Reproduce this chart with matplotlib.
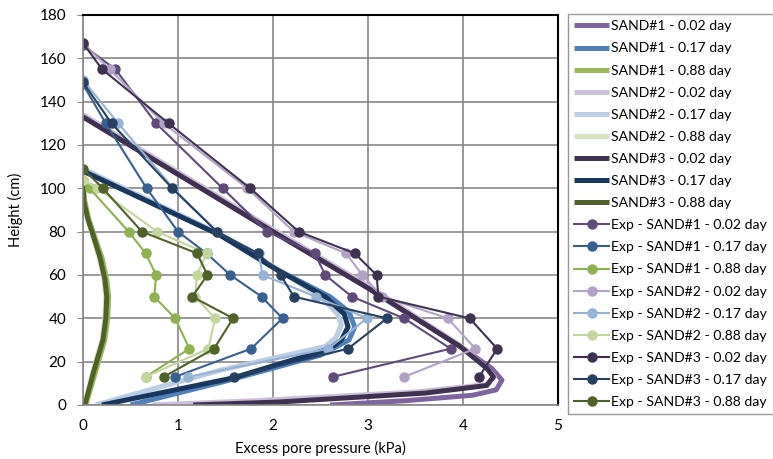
import matplotlib
matplotlib.use("Agg")
import matplotlib.pyplot as plt

plt.rcParams['font.family'] = ['Lato', 'DejaVu Sans']

# model curves (x = excess pore pressure kPa, h = height cm)
m_s1_002_x = [0, 2.0, 3.0, 3.97, 4.3, 4.41, 4.35, 4.1, 3.4, 2.6]
m_s1_002_h = [133, 80, 54, 27, 17, 11.5, 7, 4.5, 2, 0]
m_s1_017_x = [0, 1.44, 2.02, 2.6, 2.8, 2.86, 2.8, 2.5, 1.5, 0.5]
m_s1_017_h = [108, 78.5, 63, 50, 43, 36, 30, 23, 11, 0]
m_s1_088_x = [0, 0.02, 0.06, 0.12, 0.2, 0.25, 0.27, 0.26, 0.23, 0.13, 0.03]
m_s1_088_h = [102, 94, 86, 78, 68, 58, 50, 40, 30, 15, 0]
m_s2_002_x = [0, 2.0, 3.0, 3.97, 4.25, 4.33, 4.25, 3.5, 1.8, 0.73]
m_s2_002_h = [134, 81, 55, 27.5, 17, 13, 9.5, 6, 2, 0]
m_s2_017_x = [0, 1.44, 2.02, 2.5, 2.68, 2.72, 2.66, 2.55, 1.44, 0.13]
m_s2_017_h = [109, 79, 63.5, 50, 42, 37, 31, 27, 16, 0]
m_s2_088_x = [0, 0.01, 0.05, 0.1, 0.17, 0.22, 0.24, 0.23, 0.2, 0.1, 0.02]
m_s2_088_h = [102, 94, 86, 78, 68, 58, 50, 40, 30, 15, 0]
m_s3_002_x = [0, 2.0, 3.0, 3.97, 4.25, 4.32, 4.25, 3.6, 2.07, 1.16]
m_s3_002_h = [133, 80, 54, 27, 17, 13, 9, 5.5, 1.4, 0]
m_s3_017_x = [0, 1.44, 2.02, 2.55, 2.75, 2.79, 2.72, 2.6, 1.58, 0.2]
m_s3_017_h = [108, 78.5, 63, 50, 42, 36, 30, 26, 12.5, 0]
m_s3_088_x = [0, 0.01, 0.05, 0.11, 0.18, 0.23, 0.25, 0.24, 0.21, 0.11, 0.02]
m_s3_088_h = [102, 94, 86, 78, 68, 58, 50, 40, 30, 15, 0]

# experiments
e_s1_002_x = [0, 0.34, 0.77, 1.47, 1.94, 2.44, 2.55, 2.83, 3.38, 3.87, 2.63]
e_s1_002_h = [166, 155, 130, 100, 80, 70, 60, 50, 40, 26, 13]
e_s1_017_x = [0, 0.24, 0.67, 1.0, 1.3, 1.55, 1.88, 2.1, 1.77, 0.97]
e_s1_017_h = [148, 130, 100, 80, 70, 60, 50, 40, 26, 13]
e_s1_088_x = [0, 0.07, 0.48, 0.66, 0.77, 0.75, 0.97, 1.12, 0.66]
e_s1_088_h = [104, 100, 80, 70, 60, 50, 40, 26, 13]
e_s2_002_x = [0, 0.28, 0.85, 1.73, 2.22, 2.77, 2.94, 3.15, 3.84, 4.13, 3.38]
e_s2_002_h = [167, 155, 130, 100, 80, 70, 60, 50, 40, 26, 13]
e_s2_017_x = [0, 0.37, 0.95, 1.41, 1.85, 1.89, 2.45, 2.99, 2.58, 1.11]
e_s2_017_h = [150, 130, 100, 80, 70, 60, 50, 40, 26, 13]
e_s2_088_x = [0, 0.15, 0.78, 1.3, 1.2, 1.18, 1.39, 1.32, 0.66]
e_s2_088_h = [104, 100, 80, 70, 60, 50, 40, 26, 13]
e_s3_002_x = [0, 0.2, 0.9, 1.76, 2.27, 2.86, 3.09, 3.11, 4.07, 4.36, 4.17]
e_s3_002_h = [167, 155, 130, 100, 80, 70, 60, 50, 40, 26, 13]
e_s3_017_x = [0, 0.3, 0.94, 1.41, 1.84, 2.08, 2.22, 3.2, 2.79, 1.59]
e_s3_017_h = [149, 130, 100, 80, 70, 60, 50, 40, 26, 13]
e_s3_088_x = [0, 0.21, 0.62, 1.2, 1.31, 1.15, 1.58, 1.38, 0.85]
e_s3_088_h = [109, 100, 80, 70, 60, 50, 40, 26, 13]

models = [
    ("SAND#1 - 0.02 day", m_s1_002_x, m_s1_002_h, "#8064A2"),
    ("SAND#1 - 0.17 day", m_s1_017_x, m_s1_017_h, "#4F81BD"),
    ("SAND#1 - 0.88 day", m_s1_088_x, m_s1_088_h, "#9BBB59"),
    ("SAND#2 - 0.02 day", m_s2_002_x, m_s2_002_h, "#CCC1DA"),
    ("SAND#2 - 0.17 day", m_s2_017_x, m_s2_017_h, "#B9CDE5"),
    ("SAND#2 - 0.88 day", m_s2_088_x, m_s2_088_h, "#D7E4BD"),
    ("SAND#3 - 0.02 day", m_s3_002_x, m_s3_002_h, "#403152"),
    ("SAND#3 - 0.17 day", m_s3_017_x, m_s3_017_h, "#17375E"),
    ("SAND#3 - 0.88 day", m_s3_088_x, m_s3_088_h, "#4F6228"),
]
exps = [
    ("Exp - SAND#1 - 0.02 day", e_s1_002_x, e_s1_002_h, "#604A7B"),
    ("Exp - SAND#1 - 0.17 day", e_s1_017_x, e_s1_017_h, "#376092"),
    ("Exp - SAND#1 - 0.88 day", e_s1_088_x, e_s1_088_h, "#8DB24E"),
    ("Exp - SAND#2 - 0.02 day", e_s2_002_x, e_s2_002_h, "#B3A2C7"),
    ("Exp - SAND#2 - 0.17 day", e_s2_017_x, e_s2_017_h, "#95B3D7"),
    ("Exp - SAND#2 - 0.88 day", e_s2_088_x, e_s2_088_h, "#C3D69B"),
    ("Exp - SAND#3 - 0.02 day", e_s3_002_x, e_s3_002_h, "#3F3151"),
    ("Exp - SAND#3 - 0.17 day", e_s3_017_x, e_s3_017_h, "#254061"),
    ("Exp - SAND#3 - 0.88 day", e_s3_088_x, e_s3_088_h, "#4F6228"),
]

fig = plt.figure(figsize=(7.73, 4.59), dpi=100)
ax = fig.add_axes([83/773, 54/459, 475/773, 390/459])

for name, x, h, c in models:
    ax.plot(x, h, color=c, lw=3.6, label=name, solid_capstyle='butt', solid_joinstyle='round')
for name, x, h, c in exps:
    ax.plot(x, h, color=c, lw=1.5, marker='o', ms=6.5, label=name)

ax.set_xlim(0, 5)
ax.set_ylim(0, 180)
ax.set_xticks(range(0, 6))
ax.set_yticks(range(0, 181, 20))
ax.grid(True, color='#878787', lw=1.2)
ax.set_axisbelow(True)
for s in ['top', 'right']:
    ax.spines[s].set_color('black')
    ax.spines[s].set_linewidth(1.5)
for s in ['left', 'bottom']:
    ax.spines[s].set_color('#878787')
    ax.spines[s].set_linewidth(1.2)
ax.tick_params(axis='x', length=0, labelsize=11, pad=10)
ax.tick_params(axis='y', length=4, color='#878787', labelsize=11, pad=8)
ax.set_xlabel("Excess pore pressure (kPa)", fontsize=10.5, labelpad=6)
ax.set_ylabel("Height (cm)", fontsize=10.5, labelpad=12)

leg = fig.legend(loc='upper left', bbox_to_anchor=(568/773, 1 - 14/459),
                 fontsize=10.1, frameon=True, fancybox=False, handlelength=2.5,
                 handletextpad=0.15, labelspacing=0.72, borderpad=0.45, borderaxespad=0)
leg.get_frame().set_edgecolor('#7F7F7F')
leg.get_frame().set_linewidth(1.0)

fig.savefig("out.png", dpi=100)
